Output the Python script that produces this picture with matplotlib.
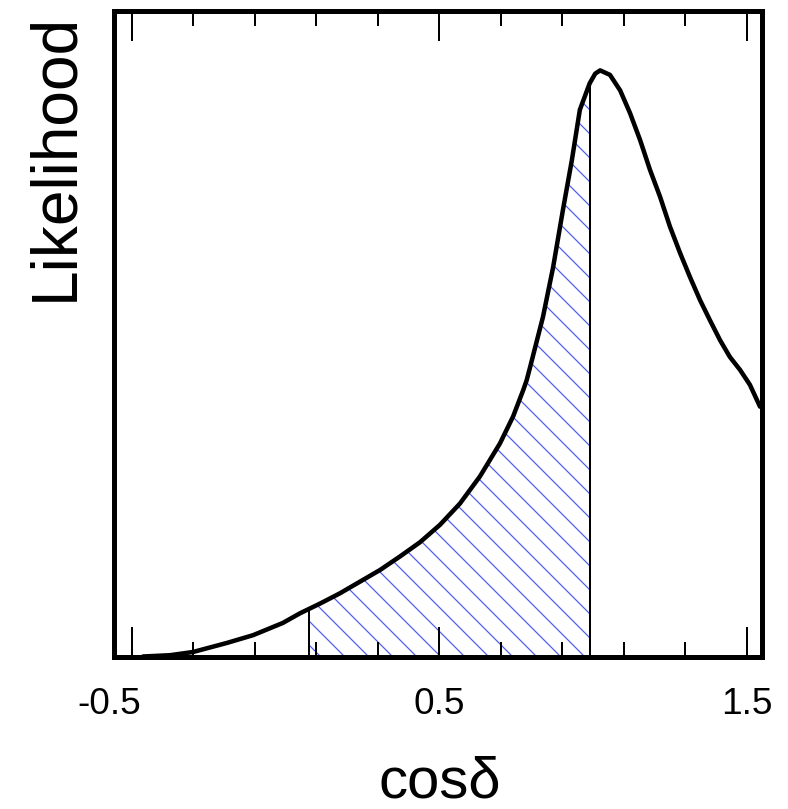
import numpy as np
import matplotlib
matplotlib.use("Agg")
import matplotlib.pyplot as plt
from matplotlib.transforms import ScaledTranslation

# curve (cos delta, likelihood scaled to 0..1)
cosd = [-0.463, -0.375, -0.300, -0.190, -0.105, -0.008, 0.048, 0.113, 0.178,
        0.243, 0.308, 0.373, 0.438, 0.503, 0.568, 0.633, 0.698, 0.741, 0.774,
        0.785, 0.796, 0.838, 0.871, 0.903, 0.932, 0.958, 0.990, 1.008, 1.024,
        1.056, 1.089, 1.121, 1.154, 1.186, 1.219, 1.251, 1.284, 1.316, 1.349,
        1.381, 1.414, 1.446, 1.479, 1.511, 1.544]
like = [0.000, 0.002, 0.007, 0.021, 0.033, 0.052, 0.067, 0.082, 0.098,
        0.116, 0.134, 0.155, 0.177, 0.204, 0.237, 0.279, 0.330, 0.372, 0.413,
        0.428, 0.448, 0.526, 0.603, 0.692, 0.769, 0.847, 0.888, 0.903, 0.908,
        0.901, 0.877, 0.842, 0.800, 0.754, 0.712, 0.666, 0.625, 0.588, 0.552,
        0.521, 0.490, 0.464, 0.444, 0.421, 0.387]

# shaded interval
lo, hi = 0.077, 0.991

major_ticks = [-0.5, 0.5, 1.5]
minor_ticks = [-0.3, -0.1, 0.1, 0.3, 0.7, 0.9, 1.1, 1.3]
tick_labels = ['-0.5', '0.5', '1.5']

plt.rcParams['font.family'] = ['Liberation Sans', 'DejaVu Sans']
plt.rcParams['hatch.linewidth'] = 1.2

# dpi 72 -> hatch cell 72px, '\\' gives 12px spacing like the original
fig = plt.figure(figsize=(788 / 72, 809 / 72), dpi=72)
ax = fig.add_axes([114 / 788, 1 - 656.5 / 809, 648 / 788, 645.5 / 809])

x = np.array(cosd)
y = np.array(like)

# hatched area, clipped to [lo, hi]
mask = (x >= lo) & (x <= hi)
xs = np.concatenate(([lo], x[mask], [hi]))
ys = np.concatenate(([np.interp(lo, x, y)], y[mask], [np.interp(hi, x, y)]))
ax.fill_between(xs, 0, ys, facecolor='none', edgecolor='#4a5af2',
                hatch='\\', linewidth=0)
ax.vlines([lo, hi], 0, [ys[0], ys[-1]], color='black', linewidth=2)

ax.plot(x, y, color='black', linewidth=4.5, solid_capstyle='round',
        solid_joinstyle='round')

ax.set_xlim(-0.5572, 1.5504)
ax.set_ylim(0, 1)
ax.set_yticks([])
ax.set_xticks(major_ticks)
ax.set_xticks(minor_ticks, minor=True)
ax.set_xticklabels(tick_labels)
ax.tick_params(axis='x', which='both', direction='in', top=True,
               width=2, labelsize=37, pad=31)
ax.tick_params(axis='x', which='major', length=30)
ax.tick_params(axis='x', which='minor', length=15)
for s in ax.spines.values():
    s.set_linewidth(5)

# the -0.5 label sits a bit left of its tick in the original
first = ax.get_xticklabels()[0]
first.set_transform(first.get_transform() +
                    ScaledTranslation(-22 / 72, 0, fig.dpi_scale_trans))

fig.text(440 / 788, 0.0, 'cosδ', fontsize=58, ha='center', va='bottom')
fig.text(72 / 788, 1 - 13 / 809, 'Likelihood', fontsize=64, rotation=90,
         rotation_mode='anchor', ha='right', va='baseline')

fig.savefig('out.png', dpi=72)
